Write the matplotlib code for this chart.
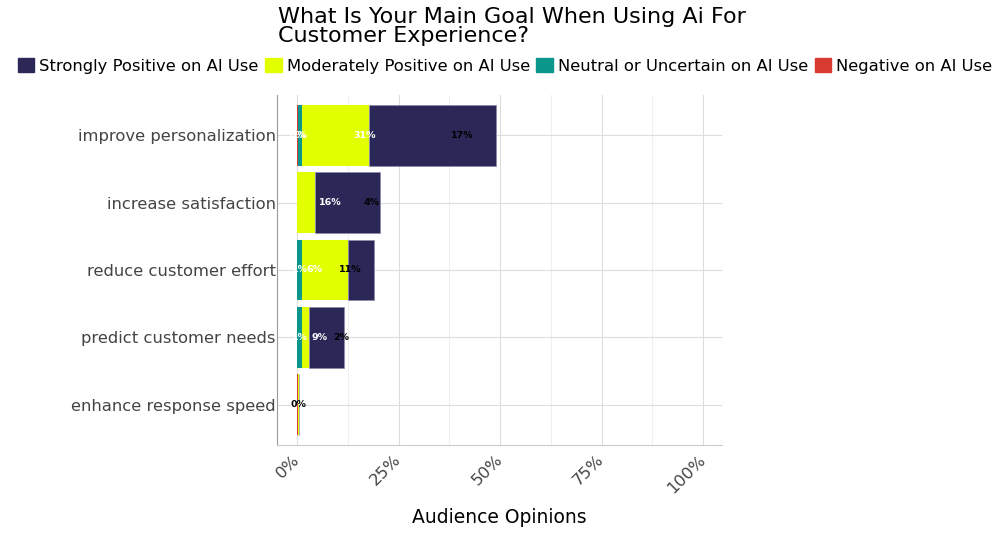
import matplotlib
matplotlib.use("Agg")
import matplotlib.pyplot as plt
from matplotlib.patches import Patch
import numpy as np

categories = ["improve personalization", "increase satisfaction", "reduce customer effort",
              "predict customer needs", "enhance response speed"]
negative = [0.25, 0.0, 0.0, 0.0, 0.2]
neutral = [0.85, 0.0, 1.2, 1.2, 0.0]
moderate = [16.6, 4.4, 11.4, 1.6, 0.25]
strong = [31.2, 16.0, 6.2, 8.8, 0.0]
x_ticks = [0, 25, 50, 75, 100]
x_ticklabels = ["0%", "25%", "50%", "75%", "100%"]

series_names = ["Strongly Positive on AI Use", "Moderately Positive on AI Use",
                "Neutral or Uncertain on AI Use", "Negative on AI Use"]
colors = {"strong": "#2b2858", "moderate": "#e2ff00", "neutral": "#0b978b", "negative": "#d93a30"}

plt.rcParams['font.family'] = ['DejaVu Sans']
fig = plt.figure(figsize=(10, 5.34), dpi=100)
ax = fig.add_axes([0.277, 0.1667, 0.445, 0.6554])

y = np.arange(len(categories))
neg = np.array(negative); neu = np.array(neutral); mod = np.array(moderate); st = np.array(strong)
h = 0.9
ax.barh(y, neg, height=h, color=colors["negative"], zorder=3)
ax.barh(y, neu, left=neg, height=h, color=colors["neutral"], zorder=3)
ax.barh(y, mod, left=neg + neu, height=h, color=colors["moderate"], zorder=3)
ax.barh(y, st, left=neg + neu + mod, height=h, color=colors["strong"],
        edgecolor="#8c8aa8", linewidth=0.5, zorder=3)

# labels (placed in order: negative, neutral, strong, moderate)
for i in range(len(categories)):
    cum = 0.0
    for vals, col in [(neg, "white"), (neu, "white"), (st, "white"), (mod, "black")]:
        v = vals[i]
        if v > 0:
            ax.text(cum + v / 2, y[i], f"{int(round(v))}%", ha="center", va="center",
                    fontsize=6.8, fontweight="bold", color=col, zorder=4)
        cum += v

ax.set_xlim(-5, 104.7)
ax.set_ylim(len(categories) - 0.4, -0.6)
ax.set_yticks(y)
ax.set_yticklabels(categories, fontsize=11.8, color="#444444")
ax.set_xticks(x_ticks)
ax.set_xticklabels(x_ticklabels, fontsize=11.8, color="#444444", rotation=45,
                   ha="right", va="center", rotation_mode="anchor")
ax.set_xticks([12.5, 37.5, 62.5, 87.5], minor=True)
ax.tick_params(axis="both", which="both", length=0)
ax.tick_params(axis="y", pad=1)
ax.tick_params(axis="x", pad=9)
ax.grid(True, which="major", color="#dddddd", linewidth=0.8, zorder=0)
ax.grid(True, which="minor", axis="x", color="#efefef", linewidth=0.8, zorder=0)
for s in ["top", "right"]:
    ax.spines[s].set_visible(False)
ax.spines["left"].set_color("#999999")
ax.spines["bottom"].set_color("#cccccc")
ax.set_xlabel("Audience Opinions", fontsize=13.5, va="center")
ax.xaxis.set_label_coords(0.5, -0.206)

fig.text(0.278, 0.986, "What Is Your Main Goal When Using Ai For\nCustomer Experience?",
         ha="left", va="top", fontsize=16, linespacing=0.9)

handles = [Patch(color=colors[k]) for k in ["strong", "moderate", "neutral", "negative"]]
fig.legend(handles, series_names, loc="center", bbox_to_anchor=(0.505, 0.877), ncol=4,
           frameon=False, fontsize=11.8, handlelength=1.0, handleheight=1.0,
           handletextpad=0.3, columnspacing=0.4, borderaxespad=0)

fig.savefig("out.png", dpi=100)
